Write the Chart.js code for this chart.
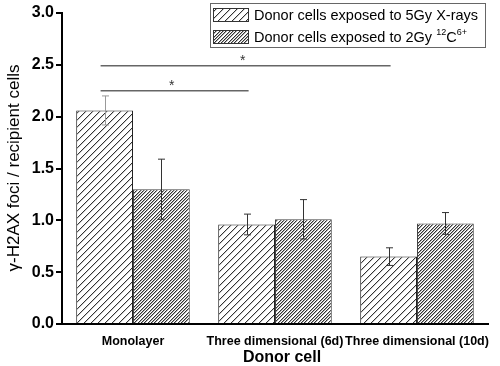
<!DOCTYPE html>
<html>
<head>
<meta charset="utf-8">
<script src="https://cdn.jsdelivr.net/npm/chart.js@4"></script>
<style>
  body { margin: 0; background: #fff; }
  #wrap { width: 500px; height: 366px; position: relative; }
</style>
</head>
<body>
<div id="wrap"><canvas id="chart"></canvas></div>
<script>
const categories = ['Monolayer', 'Three dimensional (6d)', 'Three dimensional (10d)'];
const xrayMean = [2.06, 0.96, 0.65];
const xrayErr = [0.14, 0.10, 0.085];
const carbonMean = [1.30, 1.01, 0.97];
const carbonErr = [0.29, 0.19, 0.105];
// significance brackets: from category, to category, height
const sigFrom = [0, 0];
const sigTo = [2, 1];
const sigLevel = [2.49, 2.25];

const FONT = "'Liberation Sans', Arial, sans-serif";

// "/" hatch built pixel by pixel: lines where (x+y) % T hits an offset,
// with a softer neighbour pixel to mimic the scanned line width
function hatch(T, offsets, color, soft) {
  const c = document.createElement('canvas');
  c.width = T; c.height = T;
  const g = c.getContext('2d');
  g.fillStyle = '#fff';
  g.fillRect(0, 0, T, T);
  for (let x = 0; x < T; x++) {
    for (let y = 0; y < T; y++) {
      const r = (x + y) % T;
      if (offsets.includes(r)) {
        g.fillStyle = color;
        g.fillRect(x, y, 1, 1);
      } else if (soft && offsets.includes((r + T - 1) % T)) {
        g.fillStyle = soft;
        g.fillRect(x, y, 1, 1);
      }
    }
  }
  return g.createPattern(c, 'repeat');
}

const sparse = hatch(7, [0], '#333', '#ccc');
const dense = hatch(10, [0, 3, 6], '#333', '#aaa');

const errs = [xrayErr, carbonErr];
const errColors = [['#999', '#333', '#333'], ['#333', '#333', '#333']];

const extras = {
  id: 'extras',
  afterDatasetsDraw(chart) {
    const ctx = chart.ctx;
    const y = chart.scales.y;
    ctx.save();
    // error bars
    [0, 1].forEach(di => {
      const meta = chart.getDatasetMeta(di);
      meta.data.forEach((bar, i) => {
        const m = chart.data.datasets[di].data[i];
        const e = errs[di][i];
        const x = Math.round(bar.x) + 0.5;
        const yt = y.getPixelForValue(m + e);
        const yb = y.getPixelForValue(m - e);
        ctx.strokeStyle = errColors[di][i];
        ctx.lineWidth = 1;
        ctx.beginPath();
        ctx.moveTo(x, yt); ctx.lineTo(x, yb);
        ctx.moveTo(x - 3.5, yt); ctx.lineTo(x + 3.5, yt);
        ctx.moveTo(x - 3.5, yb); ctx.lineTo(x + 3.5, yb);
        ctx.stroke();
      });
    });
    // significance lines
    const m0 = chart.getDatasetMeta(0);
    sigFrom.forEach((f, i) => {
      const x1 = m0.data[f].x - 4;
      const x2 = m0.data[sigTo[i]].x + 2;
      const yy = y.getPixelForValue(sigLevel[i]);
      ctx.strokeStyle = '#666';
      ctx.lineWidth = 1.5;
      ctx.beginPath();
      ctx.moveTo(x1, yy); ctx.lineTo(x2, yy);
      ctx.stroke();
      ctx.fillStyle = '#333';
      ctx.font = '14px ' + FONT;
      ctx.textAlign = 'center';
      ctx.textBaseline = 'alphabetic';
      ctx.fillText('*', (x1 + x2) / 2 - 3, yy - 1);
    });
    ctx.restore();
  },
  afterDraw(chart) {
    const ctx = chart.ctx;
    ctx.save();
    // legend box
    ctx.fillStyle = '#fff';
    ctx.fillRect(210, 3, 275, 44);
    ctx.strokeStyle = '#666';
    ctx.lineWidth = 1;
    ctx.strokeRect(210.5, 3.5, 275, 44);
    const rows = [{ y: 15, pat: sparse }, { y: 37, pat: dense }];
    rows.forEach(r => {
      ctx.fillStyle = r.pat;
      ctx.fillRect(213, r.y - 7, 35, 14);
      ctx.strokeStyle = '#333';
      ctx.strokeRect(213.5, r.y - 6.5, 35, 13);
    });
    ctx.fillStyle = '#000';
    ctx.textAlign = 'left';
    ctx.textBaseline = 'middle';
    ctx.font = '14.5px ' + FONT;
    ctx.fillText(chart.data.datasets[0].label, 254, 16);
    let tx = 254;
    const base = 'Donor cells exposed to 2Gy ';
    ctx.fillText(base, tx, 38);
    tx += ctx.measureText(base).width;
    ctx.font = '9px ' + FONT;
    ctx.fillText('12', tx, 33);
    tx += ctx.measureText('12').width;
    ctx.font = '14.5px ' + FONT;
    ctx.fillText('C', tx, 38);
    tx += ctx.measureText('C').width;
    ctx.font = '9px ' + FONT;
    ctx.fillText('6+', tx, 33);

    // axis titles
    ctx.font = 'bold 16px ' + FONT;
    ctx.textAlign = 'center';
    ctx.fillText('Donor cell', 282, 358);
    ctx.translate(14, 168);
    ctx.rotate(-Math.PI / 2);
    ctx.font = '17px ' + FONT;
    ctx.fillText('\u03B3-H2AX foci / recipient cells', 0, 0);
    ctx.restore();
  }
};

new Chart(document.getElementById('chart'), {
  type: 'bar',
  data: {
    labels: categories,
    datasets: [
      {
        label: 'Donor cells exposed to 5Gy X-rays',
        data: xrayMean,
        backgroundColor: sparse,
        borderColor: '#222',
        borderWidth: 1
      },
      {
        label: 'Donor cells exposed to 2Gy 12C6+',
        data: carbonMean,
        backgroundColor: dense,
        borderColor: '#444',
        borderWidth: 1
      }
    ]
  },
  options: {
    responsive: true,
    maintainAspectRatio: false,
    animation: false,
    layout: { padding: { top: 13, right: 12, left: 0, bottom: 0 } },
    datasets: { bar: { categoryPercentage: 0.8, barPercentage: 1.0 } },
    plugins: { legend: { display: false }, tooltip: { enabled: false } },
    scales: {
      x: {
        grid: { display: false },
        border: { display: true, color: '#000', width: 2 },
        ticks: { color: '#000', font: { family: FONT, size: 12.5, weight: 'bold' }, padding: 2, maxRotation: 0, autoSkip: false },
        afterFit(s) { s.height = 42; }
      },
      y: {
        min: 0, max: 3,
        grid: { drawOnChartArea: false, drawTicks: true, tickLength: 6, color: '#000', lineWidth: 2 },
        border: { display: true, color: '#000', width: 2 },
        ticks: { stepSize: 0.5, color: '#000', padding: 2, font: { family: FONT, size: 16, weight: 'bold' }, callback: v => v.toFixed(1) },
        afterFit(s) { s.width = 62; }
      }
    }
  },
  plugins: [extras]
});
</script>
</body>
</html>
